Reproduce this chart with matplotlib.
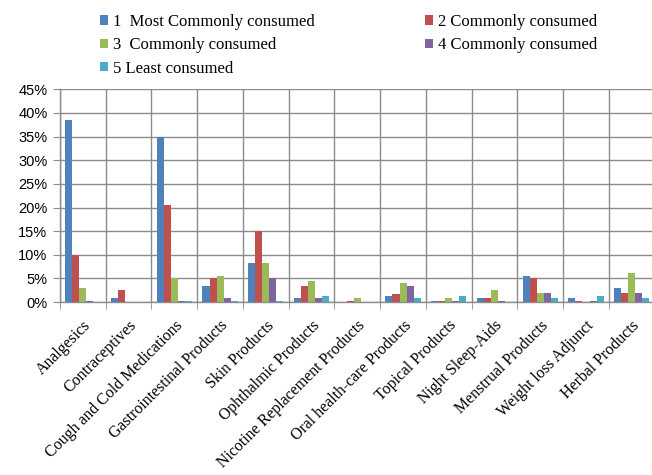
import numpy as np
import matplotlib
matplotlib.use("Agg")
import matplotlib.pyplot as plt
from matplotlib.ticker import FixedLocator

categories = ["Analgesics", "Contraceptives", "Cough and Cold Medications",
              "Gastrointestinal Products", "Skin Products", "Ophthalmic Products",
              "Nicotine Replacement Products", "Oral health-care Products",
              "Topical Products", "Night Sleep-Aids", "Menstrual Products",
              "Weight loss Adjunct", "Herbal Products"]

series_names = ["1  Most Commonly consumed", "2 Commonly consumed",
                "3  Commonly consumed", "4 Commonly consumed", "5 Least consumed"]

most_common = [38.5, 0.8, 35.0, 3.5, 8.3, 0.8, 0.0, 1.3, 0.3, 0.8, 5.6, 0.8, 2.9]
common_2 = [10.0, 2.5, 20.6, 5.0, 15.0, 3.5, 0.3, 1.8, 0.3, 0.8, 5.0, 0.3, 2.0]
common_3 = [3.0, 0.0, 5.0, 5.6, 8.3, 4.5, 0.8, 4.0, 0.8, 2.5, 2.0, 0.0, 6.1]
common_4 = [0.3, 0.0, 0.3, 0.8, 5.0, 0.8, 0.0, 3.5, 0.3, 0.3, 2.0, 0.3, 2.0]
least = [0.0, 0.0, 0.3, 0.3, 0.3, 1.3, 0.0, 0.8, 1.3, 0.0, 0.8, 1.3, 0.8]

yticks = [0, 5, 10, 15, 20, 25, 30, 35, 40, 45]
ytick_labels = ["0%", "5%", "10%", "15%", "20%", "25%", "30%", "35%", "40%", "45%"]

colors = ["#4F81BD", "#C0504D", "#9BBB59", "#8064A2", "#4BACC6"]
grid_col = "#8c8c8c"

fig = plt.figure(figsize=(6.52, 4.75), dpi=100)
ax = fig.add_axes([0.092, 0.364, 0.912, 0.448])

x = np.arange(len(categories))
w = 1 / 6.5
all_series = [most_common, common_2, common_3, common_4, least]
handles = []
for i, vals in enumerate(all_series):
    b = ax.bar(x + (i - 2) * w, vals, width=w, color=colors[i],
               label=series_names[i], zorder=3, linewidth=0)
    handles.append(b)

ax.set_xlim(-0.5, len(categories) - 0.5)
ax.set_ylim(0, 45)
ax.set_yticks(yticks)
ax.set_yticklabels(ytick_labels, family="Liberation Sans", fontsize=10.5)

ax.set_xticks(x)
ax.set_xticklabels(categories, rotation=45, ha="right", va="top",
                   rotation_mode="anchor", family="Liberation Serif", fontsize=11.4)
ax.xaxis.set_minor_locator(FixedLocator(np.arange(len(categories) + 1) - 0.5))
ax.tick_params(axis="x", which="major", length=0, pad=11)
ax.tick_params(axis="x", which="minor", length=5, color=grid_col, direction="out")
ax.tick_params(axis="y", length=5, color=grid_col, direction="out", pad=4)

ax.grid(axis="y", which="major", color=grid_col, linewidth=1, zorder=0)
ax.grid(axis="x", which="minor", color=grid_col, linewidth=1, zorder=0)
for side in ["top", "right"]:
    ax.spines[side].set_visible(False)
for side in ["left", "bottom"]:
    ax.spines[side].set_color(grid_col)
    ax.spines[side].set_linewidth(1)

# legend laid out row by row: 1 2 / 3 4 / 5
order = [0, 2, 4, 1, 3]
fig.legend([handles[i] for i in order], [series_names[i] for i in order],
           loc="upper left", bbox_to_anchor=(0.131, 1.002), ncol=2, frameon=False,
           prop={"family": "Liberation Serif", "size": 12},
           handlelength=0.48, handleheight=0.48, handletextpad=0.3,
           labelspacing=0.44, columnspacing=6.6, borderpad=0.4)

fig.savefig("out.png", dpi=100)
